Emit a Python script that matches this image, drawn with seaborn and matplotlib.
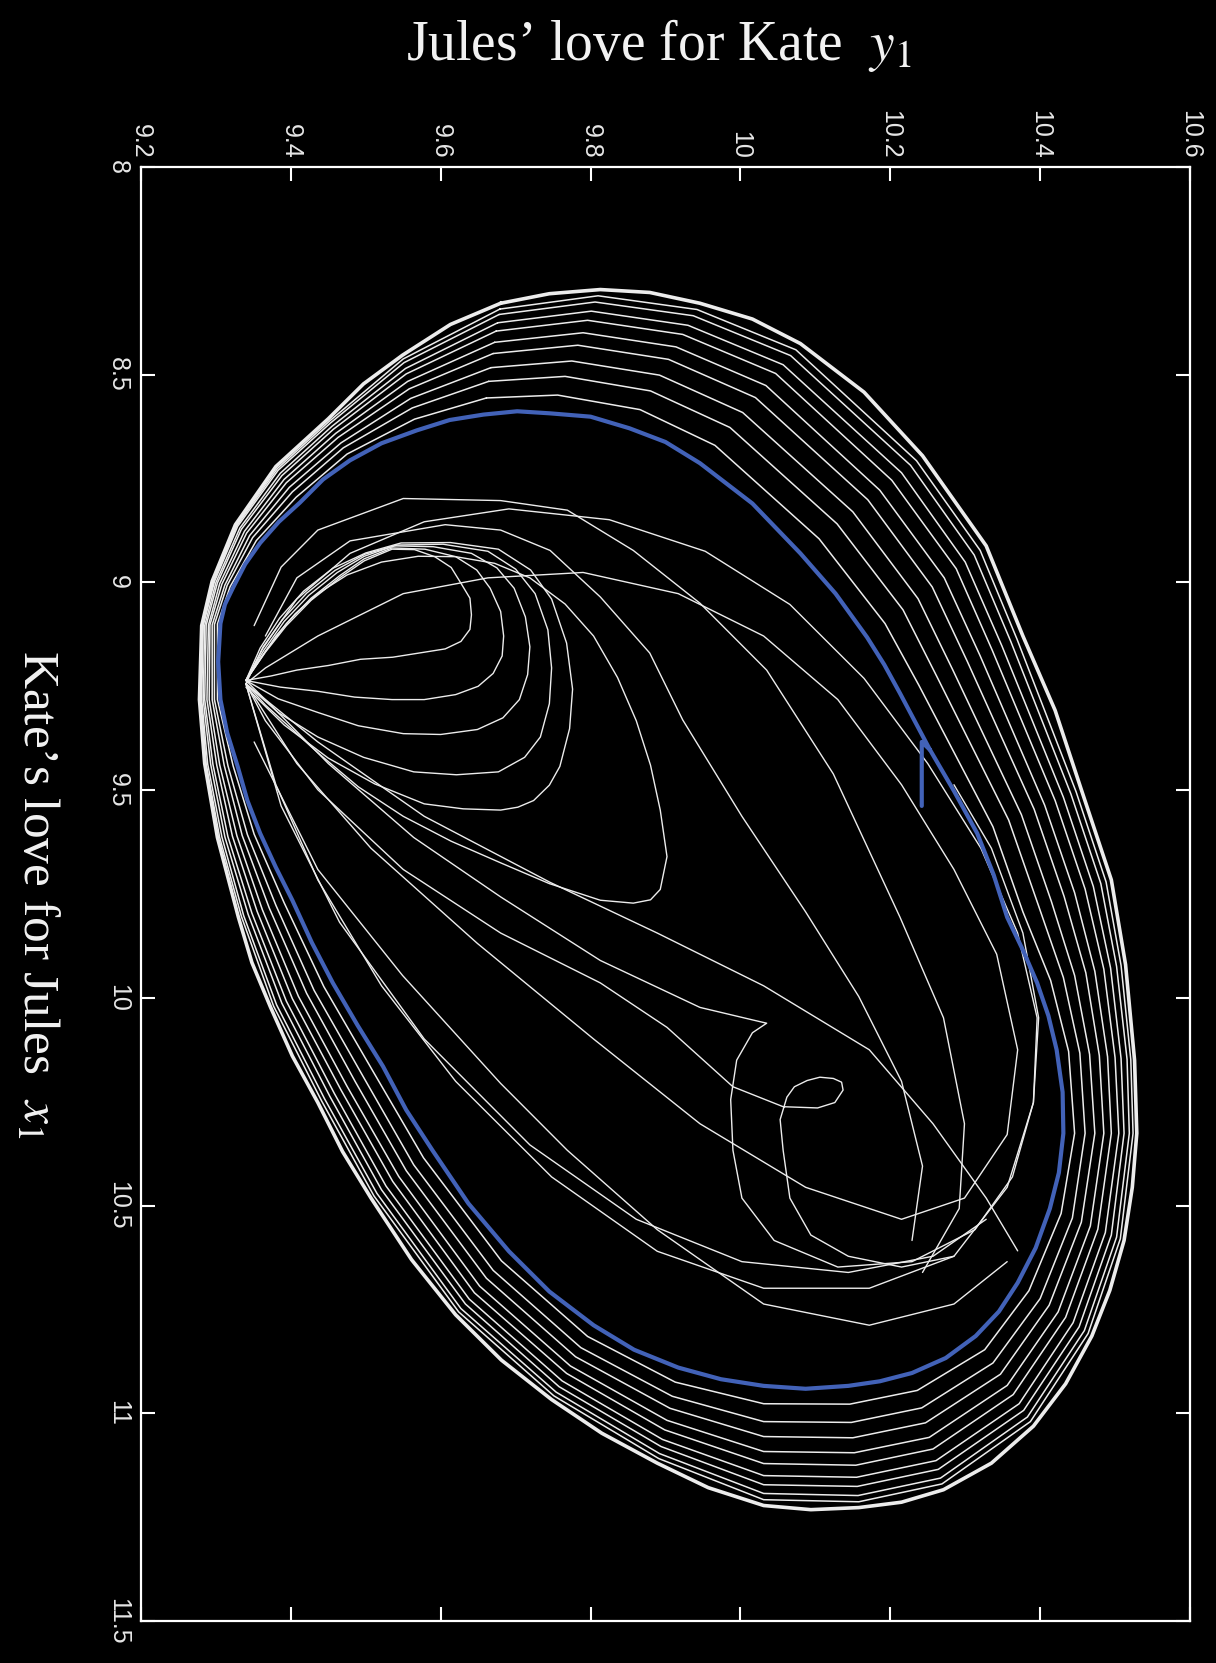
import matplotlib
matplotlib.use("Agg")
import matplotlib.pyplot as plt
import seaborn as sns

# ---------------- data (y1 = Jules' love, x1 = Kate's love) ----------------
# attractor (blue limit cycle) with its starting stub
blue_y1 = [10.242, 10.242, 10.253, 10.285, 10.316, 10.338, 10.356, 10.377, 10.396, 10.411, 10.422,
           10.430, 10.431, 10.425, 10.413, 10.394, 10.370, 10.345, 10.314, 10.274, 10.229, 10.186,
           10.144, 10.087, 10.031, 9.974, 9.917, 9.858, 9.804, 9.745, 9.691, 9.637, 9.589, 9.554,
           9.523, 9.489, 9.456, 9.428, 9.402, 9.380, 9.359, 9.342, 9.329, 9.315, 9.306, 9.303,
           9.306, 9.312, 9.323, 9.339, 9.359, 9.384, 9.412, 9.443, 9.479, 9.521, 9.568, 9.612,
           9.657, 9.702, 9.746, 9.800, 9.852, 9.900, 9.946, 10.016, 10.080, 10.127, 10.169, 10.192,
           10.213, 10.253]
blue_x1 = [9.538, 9.384, 9.403, 9.502, 9.604, 9.704, 9.806, 9.885, 9.964, 10.043, 10.125,
           10.227, 10.326, 10.421, 10.507, 10.602, 10.686, 10.755, 10.814, 10.867, 10.903, 10.923,
           10.934, 10.941, 10.934, 10.918, 10.890, 10.847, 10.788, 10.707, 10.610, 10.495, 10.367,
           10.270, 10.165, 10.066, 9.964, 9.867, 9.765, 9.686, 9.604, 9.525, 9.443, 9.362, 9.282,
           9.191, 9.099, 9.053, 9.012, 8.956, 8.905, 8.854, 8.808, 8.752, 8.706, 8.665, 8.634,
           8.609, 8.596, 8.588, 8.593, 8.601, 8.629, 8.662, 8.713, 8.810, 8.930, 9.027, 9.132,
           9.198, 9.267, 9.403]

# outer envelope loop
outer_y1 = [9.680, 9.745, 9.813, 9.879, 9.946, 10.016, 10.080, 10.165, 10.243, 10.328, 10.377, 10.420,
            10.455, 10.495, 10.514, 10.526, 10.529, 10.523, 10.512, 10.493, 10.469, 10.434, 10.391,
            10.335, 10.271, 10.215, 10.158, 10.094, 10.031, 9.957, 9.889, 9.815, 9.748, 9.681, 9.620,
            9.561, 9.507, 9.469, 9.436, 9.402, 9.373, 9.348, 9.330, 9.302, 9.285, 9.278, 9.281,
            9.295, 9.326, 9.380, 9.450, 9.497, 9.549, 9.613]
outer_x1 = [8.328, 8.305, 8.295, 8.302, 8.328, 8.366, 8.425, 8.542, 8.695, 8.912, 9.129, 9.308,
            9.499, 9.716, 9.920, 10.150, 10.326, 10.456, 10.584, 10.704, 10.814, 10.929, 11.031,
            11.120, 11.184, 11.214, 11.227, 11.232, 11.222, 11.179, 11.120, 11.048, 10.967, 10.872,
            10.763, 10.630, 10.482, 10.370, 10.252, 10.140, 10.023, 9.915, 9.806, 9.614, 9.436,
            9.282, 9.104, 8.997, 8.861, 8.721, 8.606, 8.522, 8.453, 8.379]

# loops of the band between the cycle and the envelope (inner to outer)
band0_y1 = [9.661, 9.756, 9.866, 9.966, 10.105, 10.193, 10.238, 10.337, 10.377, 10.414, 10.438, 10.446,
            10.428, 10.385, 10.326, 10.236, 10.146, 10.031, 9.913, 9.796, 9.681, 9.577, 9.510, 9.444,
            9.391, 9.351, 9.323, 9.302, 9.302, 9.319, 9.354, 9.407, 9.475, 9.565]
band0_x1 = [8.556, 8.549, 8.584, 8.670, 8.895, 9.099, 9.247, 9.588, 9.793, 9.958, 10.129, 10.326,
            10.519, 10.705, 10.847, 10.945, 10.978, 10.977, 10.925, 10.815, 10.633, 10.385, 10.178,
            9.973, 9.771, 9.606, 9.442, 9.282, 9.100, 9.010, 8.899, 8.795, 8.691, 8.607]
band1_y1 = [9.664, 9.766, 9.880, 9.986, 10.129, 10.217, 10.262, 10.358, 10.398, 10.431, 10.453, 10.460,
            10.443, 10.400, 10.337, 10.242, 10.148, 10.031, 9.909, 9.787, 9.670, 9.564, 9.497, 9.431,
            9.380, 9.342, 9.316, 9.298, 9.298, 9.315, 9.349, 9.402, 9.470, 9.562]
band1_x1 = [8.516, 8.504, 8.539, 8.627, 8.859, 9.066, 9.226, 9.572, 9.779, 9.951, 10.133, 10.326,
            10.530, 10.724, 10.879, 10.987, 11.022, 11.020, 10.959, 10.842, 10.656, 10.402, 10.191,
            9.982, 9.777, 9.607, 9.441, 9.282, 9.101, 9.007, 8.892, 8.782, 8.676, 8.580]
band2_y1 = [9.667, 9.775, 9.892, 10.003, 10.150, 10.237, 10.283, 10.375, 10.415, 10.446, 10.466, 10.473,
            10.455, 10.412, 10.347, 10.247, 10.150, 10.031, 9.906, 9.780, 9.661, 9.554, 9.486, 9.421,
            9.371, 9.335, 9.311, 9.295, 9.295, 9.312, 9.345, 9.398, 9.467, 9.560]
band2_x1 = [8.483, 8.467, 8.501, 8.591, 8.830, 9.039, 9.209, 9.559, 9.768, 9.946, 10.136, 10.326,
            10.540, 10.740, 10.906, 11.023, 11.059, 11.056, 10.988, 10.864, 10.675, 10.416, 10.202,
            9.989, 9.783, 9.609, 9.440, 9.282, 9.102, 9.006, 8.887, 8.771, 8.664, 8.557]
band3_y1 = [9.670, 9.783, 9.904, 10.020, 10.170, 10.256, 10.303, 10.392, 10.432, 10.461, 10.479, 10.485,
            10.467, 10.424, 10.356, 10.252, 10.152, 10.031, 9.902, 9.773, 9.652, 9.544, 9.475, 9.410,
            9.362, 9.328, 9.305, 9.291, 9.292, 9.308, 9.341, 9.394, 9.463, 9.558]
band3_x1 = [8.449, 8.429, 8.463, 8.555, 8.801, 9.011, 9.191, 9.546, 9.756, 9.940, 10.139, 10.326,
            10.549, 10.756, 10.933, 11.058, 11.095, 11.092, 11.017, 10.886, 10.694, 10.430, 10.213,
            9.996, 9.788, 9.610, 9.439, 9.282, 9.102, 9.004, 8.881, 8.760, 8.651, 8.534]
band4_y1 = [9.672, 9.790, 9.914, 10.034, 10.186, 10.272, 10.320, 10.406, 10.446, 10.473, 10.490, 10.495,
            10.477, 10.434, 10.364, 10.257, 10.154, 10.031, 9.899, 9.768, 9.645, 9.536, 9.467, 9.402,
            9.355, 9.322, 9.301, 9.288, 9.290, 9.305, 9.338, 9.391, 9.460, 9.556]
band4_x1 = [8.422, 8.399, 8.433, 8.526, 8.778, 8.989, 9.177, 9.536, 9.747, 9.936, 10.142, 10.326,
            10.557, 10.769, 10.955, 11.086, 11.125, 11.121, 11.040, 10.904, 10.710, 10.442, 10.222,
            10.002, 9.792, 9.611, 9.439, 9.282, 9.103, 9.003, 8.877, 8.752, 8.641, 8.516]
band5_y1 = [9.674, 9.796, 9.923, 10.047, 10.202, 10.288, 10.336, 10.420, 10.460, 10.485, 10.500, 10.505,
            10.487, 10.444, 10.372, 10.261, 10.155, 10.031, 9.896, 9.762, 9.638, 9.527, 9.458, 9.394,
            9.348, 9.316, 9.296, 9.285, 9.287, 9.302, 9.334, 9.388, 9.457, 9.554]
band5_x1 = [8.395, 8.369, 8.403, 8.497, 8.754, 8.967, 9.163, 9.525, 9.738, 9.931, 10.144, 10.326,
            10.565, 10.782, 10.977, 11.114, 11.154, 11.150, 11.063, 10.922, 10.725, 10.453, 10.230,
            10.008, 9.796, 9.612, 9.438, 9.282, 9.103, 9.001, 8.872, 8.743, 8.631, 8.498]
band6_y1 = [9.676, 9.801, 9.930, 10.057, 10.215, 10.300, 10.349, 10.431, 10.471, 10.494, 10.508, 10.512,
            10.495, 10.452, 10.378, 10.264, 10.156, 10.031, 9.894, 9.758, 9.633, 9.521, 9.452, 9.388,
            9.343, 9.312, 9.293, 9.283, 9.285, 9.300, 9.332, 9.386, 9.455, 9.553]
band6_x1 = [8.375, 8.347, 8.381, 8.476, 8.736, 8.951, 9.153, 9.517, 9.732, 9.928, 10.146, 10.326,
            10.571, 10.792, 10.993, 11.135, 11.176, 11.172, 11.080, 10.936, 10.737, 10.462, 10.237,
            10.013, 9.799, 9.613, 9.438, 9.282, 9.104, 9.000, 8.869, 8.737, 8.624, 8.485]
band7_y1 = [9.678, 9.806, 9.937, 10.067, 10.227, 10.312, 10.361, 10.441, 10.481, 10.502, 10.516, 10.519,
            10.502, 10.459, 10.383, 10.267, 10.157, 10.031, 9.892, 9.754, 9.627, 9.515, 9.445, 9.381,
            9.337, 9.308, 9.289, 9.281, 9.283, 9.298, 9.329, 9.383, 9.453, 9.551]
band7_x1 = [8.355, 8.325, 8.358, 8.454, 8.718, 8.934, 9.143, 9.509, 9.725, 9.924, 10.148, 10.326,
            10.576, 10.801, 11.009, 11.156, 11.198, 11.193, 11.097, 10.949, 10.748, 10.471, 10.243,
            10.017, 9.802, 9.613, 9.437, 9.282, 9.104, 8.998, 8.865, 8.730, 8.616, 8.471]
band8_y1 = [9.679, 9.810, 9.942, 10.074, 10.235, 10.320, 10.369, 10.448, 10.488, 10.508, 10.521, 10.524,
            10.507, 10.464, 10.387, 10.269, 10.158, 10.031, 9.891, 9.751, 9.624, 9.511, 9.441, 9.377,
            9.334, 9.305, 9.287, 9.280, 9.282, 9.297, 9.328, 9.382, 9.452, 9.550]
band8_x1 = [8.342, 8.310, 8.343, 8.440, 8.707, 8.923, 9.136, 9.504, 9.721, 9.922, 10.149, 10.326,
            10.580, 10.808, 11.020, 11.170, 11.213, 11.208, 11.109, 10.958, 10.756, 10.477, 10.248,
            10.020, 9.804, 9.614, 9.437, 9.282, 9.104, 8.998, 8.863, 8.726, 8.611, 8.462]

# nested transient loops leaving the left hub
nest1_y1 = [9.340, 9.366, 9.394, 9.427, 9.465, 9.498, 9.535, 9.565, 9.592, 9.614, 9.627, 9.639,
            9.641, 9.639, 9.627, 9.606, 9.578, 9.536, 9.493, 9.450, 9.408, 9.374, 9.340]
nest1_x1 = [9.236, 9.168, 9.104, 9.043, 8.989, 8.948, 8.920, 8.921, 8.938, 8.964, 9.002, 9.038,
            9.078, 9.113, 9.142, 9.160, 9.168, 9.180, 9.185, 9.200, 9.211, 9.225, 9.236]
nest2_y1 = [9.340, 9.366, 9.394, 9.427, 9.465, 9.498, 9.535, 9.579, 9.620, 9.648, 9.666, 9.680,
            9.684, 9.682, 9.670, 9.650, 9.620, 9.578, 9.535, 9.485, 9.436, 9.386, 9.340]
nest2_x1 = [9.236, 9.166, 9.099, 9.038, 8.984, 8.943, 8.917, 8.920, 8.938, 8.970, 9.014, 9.070,
            9.129, 9.177, 9.219, 9.250, 9.270, 9.282, 9.282, 9.276, 9.262, 9.252, 9.236]
nest3_y1 = [9.340, 9.364, 9.391, 9.424, 9.462, 9.498, 9.538, 9.590, 9.641, 9.675, 9.698, 9.713,
            9.719, 9.716, 9.705, 9.683, 9.649, 9.600, 9.550, 9.490, 9.436, 9.383, 9.340]
nest3_x1 = [9.236, 9.163, 9.094, 9.031, 8.976, 8.937, 8.912, 8.914, 8.930, 8.965, 9.014, 9.083,
            9.155, 9.222, 9.282, 9.326, 9.354, 9.366, 9.364, 9.345, 9.313, 9.280, 9.236]
nest4_y1 = [9.340, 9.362, 9.388, 9.421, 9.459, 9.499, 9.542, 9.603, 9.663, 9.700, 9.726, 9.743,
            9.748, 9.745, 9.733, 9.712, 9.677, 9.621, 9.564, 9.497, 9.436, 9.383, 9.340]
nest4_x1 = [9.236, 9.160, 9.091, 9.026, 8.971, 8.932, 8.910, 8.908, 8.925, 8.968, 9.027, 9.114,
            9.206, 9.292, 9.372, 9.421, 9.456, 9.463, 9.456, 9.421, 9.372, 9.313, 9.244]
nest5_y1 = [9.340, 9.359, 9.385, 9.417, 9.456, 9.500, 9.547, 9.613, 9.677, 9.720, 9.748, 9.768,
            9.776, 9.772, 9.759, 9.745, 9.724, 9.703, 9.680, 9.630, 9.578, 9.512, 9.450, 9.391, 9.340]
nest5_x1 = [9.236, 9.158, 9.086, 9.021, 8.966, 8.929, 8.905, 8.904, 8.920, 8.970, 9.040, 9.146,
            9.257, 9.352, 9.443, 9.488, 9.525, 9.541, 9.548, 9.545, 9.533, 9.485, 9.423, 9.343, 9.252]
drop_y1 = [9.340, 9.380, 9.406, 9.436, 9.475, 9.521, 9.570, 9.620, 9.672, 9.719, 9.766, 9.804,
           9.836, 9.861, 9.880, 9.893, 9.902, 9.893, 9.880, 9.857, 9.813, 9.745, 9.680, 9.614,
           9.550, 9.490, 9.436, 9.366, 9.340]
drop_x1 = [9.236, 9.129, 9.075, 9.027, 8.982, 8.951, 8.937, 8.938, 8.954, 8.989, 9.052, 9.129,
           9.229, 9.333, 9.440, 9.548, 9.660, 9.739, 9.764, 9.772, 9.765, 9.725, 9.675, 9.623,
           9.563, 9.492, 9.410, 9.295, 9.244]

# transients through the interior
curl_y1 = [9.340, 9.366, 9.436, 9.550, 9.680, 9.813, 9.902, 9.990, 10.057, 10.103, 10.126, 10.137,
           10.135, 10.124, 10.106, 10.089, 10.072, 10.062, 10.053, 10.057, 10.066, 10.094, 10.144,
           10.215, 10.285]
curl_x1 = [9.244, 9.333, 9.499, 9.691, 9.844, 9.964, 10.071, 10.214, 10.262, 10.265, 10.252, 10.222,
           10.203, 10.194, 10.191, 10.199, 10.214, 10.239, 10.293, 10.367, 10.482, 10.571, 10.622,
           10.648, 10.622]
cusp_y1 = [9.340, 9.373, 9.450, 9.564, 9.680, 9.813, 9.946, 10.016, 10.035, 10.016, 9.995, 9.987,
           9.990, 10.002, 10.045, 10.130, 10.229, 10.313, 10.363, 10.391, 10.398, 10.377, 10.335, 10.285]
cusp_x1 = [9.236, 9.295, 9.436, 9.614, 9.757, 9.910, 10.023, 10.053, 10.061, 10.084, 10.150, 10.245,
           10.367, 10.482, 10.584, 10.648, 10.635, 10.558, 10.431, 10.252, 10.048, 9.844, 9.640, 9.487]
inner1_y1 = [9.340, 9.380, 9.436, 9.521, 9.620, 9.748, 9.889, 10.031, 10.172, 10.285, 10.356, 10.391,
             10.396, 10.370, 10.321, 10.250, 10.165, 10.066, 9.953, 9.825, 9.691, 9.578, 9.479, 9.408,
             9.363, 9.340]
inner1_x1 = [9.244, 9.487, 9.716, 9.971, 10.201, 10.431, 10.610, 10.699, 10.699, 10.622, 10.456, 10.252,
             10.048, 9.844, 9.640, 9.436, 9.231, 9.053, 8.925, 8.849, 8.823, 8.854, 8.930, 9.040,
             9.155, 9.244]
inner2_y1 = [9.340, 9.408, 9.507, 9.649, 9.804, 9.946, 10.087, 10.215, 10.299, 10.356, 10.370, 10.342,
             10.285, 10.215, 10.130, 10.031, 9.917, 9.790, 9.663, 9.550, 9.436, 9.366, 9.340]
inner2_x1 = [9.244, 9.436, 9.640, 9.869, 10.099, 10.303, 10.456, 10.533, 10.482, 10.329, 10.125, 9.895,
             9.691, 9.487, 9.282, 9.129, 9.027, 8.976, 8.989, 9.027, 9.129, 9.206, 9.244]
fan1_y1 = [9.340, 9.436, 9.578, 9.746, 9.889, 10.031, 10.172, 10.257, 10.328, 10.370]
fan1_x1 = [9.244, 9.384, 9.563, 9.722, 9.844, 9.971, 10.125, 10.303, 10.482, 10.609]
fan2_y1 = [9.340, 9.387, 9.465, 9.578, 9.719, 9.861, 10.002, 10.144, 10.257, 10.328]
fan2_x1 = [9.244, 9.538, 9.818, 10.099, 10.354, 10.533, 10.635, 10.661, 10.622, 10.533]
fan3_y1 = [9.351, 9.436, 9.549, 9.680, 9.769, 9.889, 10.031, 10.172, 10.285, 10.356]
fan3_x1 = [9.384, 9.691, 9.946, 10.206, 10.367, 10.558, 10.737, 10.788, 10.737, 10.635]
top1_y1 = [9.351, 9.387, 9.436, 9.550, 9.680, 9.769, 9.857, 9.946, 10.035, 10.124, 10.213, 10.271,
           10.299, 10.292, 10.243]
top1_x1 = [9.104, 8.963, 8.874, 8.798, 8.803, 8.826, 8.923, 9.050, 9.211, 9.461, 9.806, 10.048,
           10.303, 10.507, 10.661]
top2_y1 = [9.366, 9.408, 9.479, 9.606, 9.680, 9.746, 9.813, 9.879, 9.923, 10.002, 10.087, 10.158,
           10.215, 10.243, 10.229]
top2_x1 = [9.129, 8.989, 8.900, 8.861, 8.874, 8.923, 9.035, 9.170, 9.331, 9.563, 9.793, 9.997,
           10.201, 10.405, 10.584]

y1_ticks = [9.2, 9.4, 9.6, 9.8, 10.0, 10.2, 10.4, 10.6]
y1_tick_labels = ["9.2", "9.4", "9.6", "9.8", "10", "10.2", "10.4", "10.6"]
x1_ticks = [8.0, 8.5, 9.0, 9.5, 10.0, 10.5, 11.0, 11.5]
x1_tick_labels = ["8", "8.5", "9", "9.5", "10", "10.5", "11", "11.5"]

# ---------------- figure ----------------
sns.set_style("dark")
plt.rcParams["font.family"] = ["Liberation Sans", "DejaVu Sans"]
plt.rcParams["mathtext.fontset"] = "stix"

W, H = 1216, 1663
fig = plt.figure(figsize=(W / 100, H / 100), dpi=100, facecolor="black")
ax = fig.add_axes([141 / W, 1 - 1621 / H, 1049 / W, 1454 / H])
ax.set_facecolor("black")

WHITE = "#ececec"


def draw(y1, x1, color=WHITE, lw=1.0, close=False):
    y1 = list(y1)
    x1 = list(x1)
    if close:
        y1 = y1 + y1[:1]
        x1 = x1 + x1[:1]
    sns.lineplot(x=y1, y=x1, sort=False, estimator=None, color=color,
                 linewidth=lw, ax=ax, legend=False)
    ax.lines[-1].set_solid_joinstyle("round")


band_loops = [(band0_y1, band0_x1), (band1_y1, band1_x1), (band2_y1, band2_x1),
              (band3_y1, band3_x1), (band4_y1, band4_x1), (band5_y1, band5_x1),
              (band6_y1, band6_x1), (band7_y1, band7_x1), (band8_y1, band8_x1)]
for ys, xs in band_loops:
    draw(ys, xs, lw=1.1, close=True)
draw(outer_y1, outer_x1, lw=2.6, close=True)

for ys, xs in [(nest1_y1, nest1_x1), (nest2_y1, nest2_x1), (nest3_y1, nest3_x1),
               (nest4_y1, nest4_x1), (nest5_y1, nest5_x1), (drop_y1, drop_x1),
               (curl_y1, curl_x1), (cusp_y1, cusp_x1), (inner1_y1, inner1_x1),
               (inner2_y1, inner2_x1), (fan1_y1, fan1_x1), (fan2_y1, fan2_x1),
               (fan3_y1, fan3_x1), (top1_y1, top1_x1), (top2_y1, top2_x1)]:
    draw(ys, xs, lw=1.0)

draw(blue_y1, blue_x1, color="#4262b8", lw=3.0)

ax.set_xlim(9.2, 10.6)
ax.set_ylim(11.5, 8.0)
ax.set_xlabel("")
ax.set_ylabel("")
ax.grid(False)
for sp in ax.spines.values():
    sp.set_visible(True)
    sp.set_color("white")
    sp.set_linewidth(1.6)

ax.set_xticks(y1_ticks)
ax.set_xticklabels(y1_tick_labels)
ax.set_yticks(x1_ticks)
ax.set_yticklabels(x1_tick_labels)
ax.tick_params(axis="both", which="both", direction="in", length=10, width=1.5,
               colors="white", top=True, bottom=True, left=True, right=True,
               labeltop=True, labelbottom=False, labelleft=True, labelright=False,
               labelsize=18)
ax.tick_params(axis="x", pad=6)
ax.tick_params(axis="y", pad=8)
for lbl in ax.get_xticklabels():
    lbl.set_rotation(-90)
    lbl.set_va("bottom")
    lbl.set_ha("center")
    lbl.set_color("#e6e6e6")
for lbl in ax.get_yticklabels():
    lbl.set_rotation(-90)
    lbl.set_va("center")
    lbl.set_ha("right")
    lbl.set_color("#e6e6e6")

fig.text(659 / W, 1 - 45 / H, "Jules\u2019 love for Kate  $y_1$", color="#f2f2f2",
         fontsize=40, family=["Liberation Serif", "DejaVu Serif"], ha="center", va="center")
fig.text(36 / W, 1 - 894 / H, "Kate\u2019s love for Jules  $x_1$", color="#f2f2f2",
         fontsize=37, family=["Liberation Serif", "DejaVu Serif"], ha="center", va="center",
         rotation=-90)

fig.savefig("out.png", dpi=100, facecolor="black")
